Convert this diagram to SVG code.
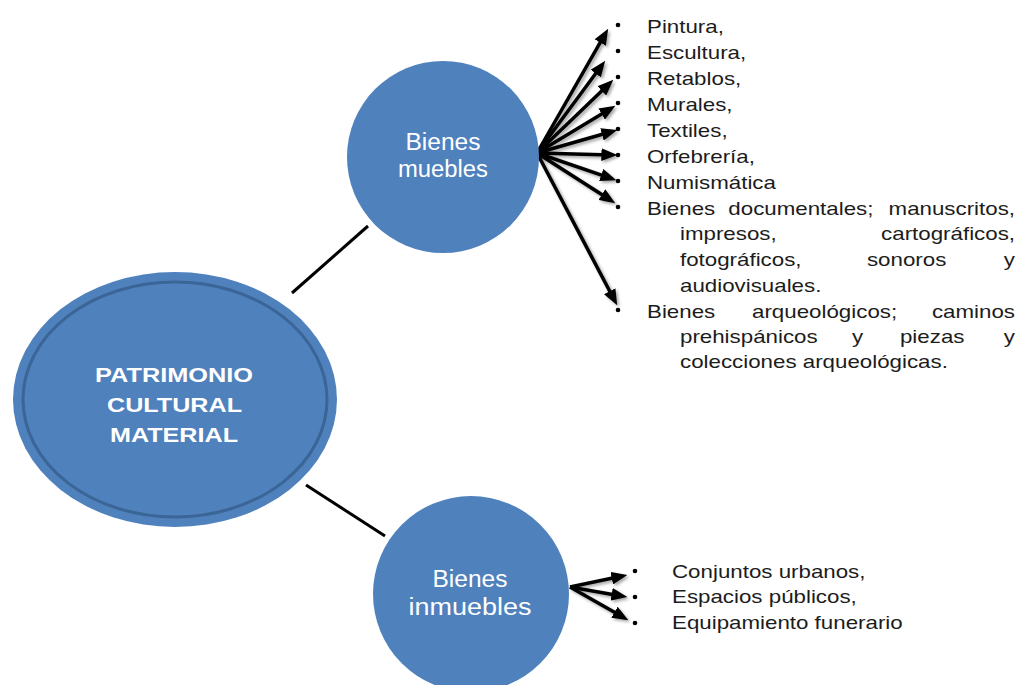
<svg xmlns="http://www.w3.org/2000/svg" width="1021" height="685" viewBox="0 0 1021 685">
<style>
.node{fill:#4f81bd}
.lbl{font-family:"Liberation Sans",Arial,sans-serif;fill:#ffffff;text-anchor:middle}
.lst{font-family:"Liberation Sans",Arial,sans-serif;font-size:18px;fill:#1c1c1c}
.conn{stroke:#000;stroke-width:3;fill:none}
.arr{stroke:#000;stroke-width:3.5;fill:none;marker-end:url(#ah)}
.bul{fill:#000}
</style>
<defs>
<marker id="ah" markerUnits="userSpaceOnUse" markerWidth="16" markerHeight="13" viewBox="0 0 15 12" refX="9" refY="6" orient="auto">
<path d="M0,0 L15,6 L0,12 Z" fill="#000"/>
</marker>
<filter id="sh" x="-10%" y="-10%" width="130%" height="130%">
<feDropShadow dx="2" dy="2" stdDeviation="1.5" flood-color="#000" flood-opacity="0.35"/>
</filter>
</defs>

<g id="connectors">
<line class="conn" x1="292" y1="293" x2="368" y2="226"/>
<line class="conn" x1="306" y1="485" x2="385" y2="536"/>
<g filter="url(#sh)">
<line class="arr" x1="537" y1="153" x2="605" y2="34.2"/>
<line class="arr" x1="537" y1="153" x2="601.4" y2="65.8"/>
<line class="arr" x1="537" y1="153" x2="608.7" y2="84.2"/>
<line class="arr" x1="537" y1="153" x2="609.9" y2="109.1"/>
<line class="arr" x1="537" y1="153" x2="611.2" y2="131.7"/>
<line class="arr" x1="537" y1="153" x2="611" y2="154.9"/>
<line class="arr" x1="537" y1="153" x2="610.3" y2="178.1"/>
<line class="arr" x1="537" y1="153" x2="609.9" y2="199.8"/>
<line class="arr" x1="537" y1="153" x2="614.2" y2="299.7"/>
<line class="arr" x1="570" y1="587" x2="621.1" y2="576.2"/>
<line class="arr" x1="570" y1="587" x2="621.1" y2="596"/>
<line class="arr" x1="570" y1="587" x2="622.8" y2="617"/>
</g>
</g>

<g id="patrimonio">
<ellipse class="node" cx="175" cy="399.5" rx="162" ry="127.5"/>
<ellipse cx="175" cy="399.5" rx="152" ry="117.5" fill="none" stroke="#3a6596" stroke-width="3"/>
<text class="lbl" x="174" y="382" font-size="21" font-weight="bold" textLength="158" lengthAdjust="spacingAndGlyphs">PATRIMONIO</text>
<text class="lbl" x="174.5" y="412" font-size="21" font-weight="bold" textLength="135" lengthAdjust="spacingAndGlyphs">CULTURAL</text>
<text class="lbl" x="174" y="442" font-size="21" font-weight="bold" textLength="128" lengthAdjust="spacingAndGlyphs">MATERIAL</text>
</g>

<g id="muebles">
<circle class="node" cx="443" cy="157" r="96"/>
<text class="lbl" x="443" y="150" font-size="23" textLength="75" lengthAdjust="spacingAndGlyphs">Bienes</text>
<text class="lbl" x="443" y="177" font-size="23" textLength="90" lengthAdjust="spacingAndGlyphs">muebles</text>
</g>

<g id="inmuebles">
<circle class="node" cx="471" cy="594" r="98"/>
<text class="lbl" x="470" y="587" font-size="23" textLength="75" lengthAdjust="spacingAndGlyphs">Bienes</text>
<text class="lbl" x="470" y="615" font-size="23" textLength="123" lengthAdjust="spacingAndGlyphs">inmuebles</text>
</g>

<g id="lista-muebles">
<circle class="bul" cx="618" cy="25" r="2.3"/>
<circle class="bul" cx="618" cy="51" r="2.3"/>
<circle class="bul" cx="618" cy="77" r="2.3"/>
<circle class="bul" cx="618" cy="103" r="2.3"/>
<circle class="bul" cx="618" cy="129" r="2.3"/>
<circle class="bul" cx="618" cy="155" r="2.3"/>
<circle class="bul" cx="618" cy="181" r="2.3"/>
<circle class="bul" cx="618" cy="207" r="2.3"/>
<circle class="bul" cx="618" cy="310" r="2.3"/>
<g transform="translate(647 0) scale(1.24 1)">
<text class="lst" x="0" y="33">Pintura,</text>
<text class="lst" x="0" y="59">Escultura,</text>
<text class="lst" x="0" y="85">Retablos,</text>
<text class="lst" x="0" y="111">Murales,</text>
<text class="lst" x="0" y="137">Textiles,</text>
<text class="lst" x="0" y="163">Orfebrería,</text>
<text class="lst" x="0" y="189">Numismática</text>
<text class="lst" x="0" y="215">Bienes</text>
<text class="lst" x="65.6" y="215">documentales;</text>
<text class="lst" x="296.8" y="215" text-anchor="end">manuscritos,</text>
<text class="lst" x="26.6" y="240">impresos,</text>
<text class="lst" x="296.8" y="240" text-anchor="end">cartográficos,</text>
<text class="lst" x="26.6" y="266">fotográficos,</text>
<text class="lst" x="177.4" y="266">sonoros</text>
<text class="lst" x="296.8" y="266" text-anchor="end">y</text>
<text class="lst" x="26.6" y="292">audiovisuales.</text>
<text class="lst" x="0" y="318">Bienes</text>
<text class="lst" x="84.7" y="318">arqueológicos;</text>
<text class="lst" x="296.8" y="318" text-anchor="end">caminos</text>
<text class="lst" x="26.6" y="343">prehispánicos</text>
<text class="lst" x="165.3" y="343">y</text>
<text class="lst" x="204" y="343">piezas</text>
<text class="lst" x="296.8" y="343" text-anchor="end">y</text>
<text class="lst" x="26.6" y="368">colecciones arqueológicas.</text>
</g>
</g>

<g id="lista-inmuebles">
<circle class="bul" cx="635" cy="571" r="2.3"/>
<circle class="bul" cx="635" cy="597" r="2.3"/>
<circle class="bul" cx="635" cy="623" r="2.3"/>
<g transform="translate(672 0) scale(1.24 1)">
<text class="lst" x="0" y="578">Conjuntos urbanos,</text>
<text class="lst" x="0" y="603">Espacios públicos,</text>
<text class="lst" x="0" y="629">Equipamiento funerario</text>
</g>
</g>
</svg>
